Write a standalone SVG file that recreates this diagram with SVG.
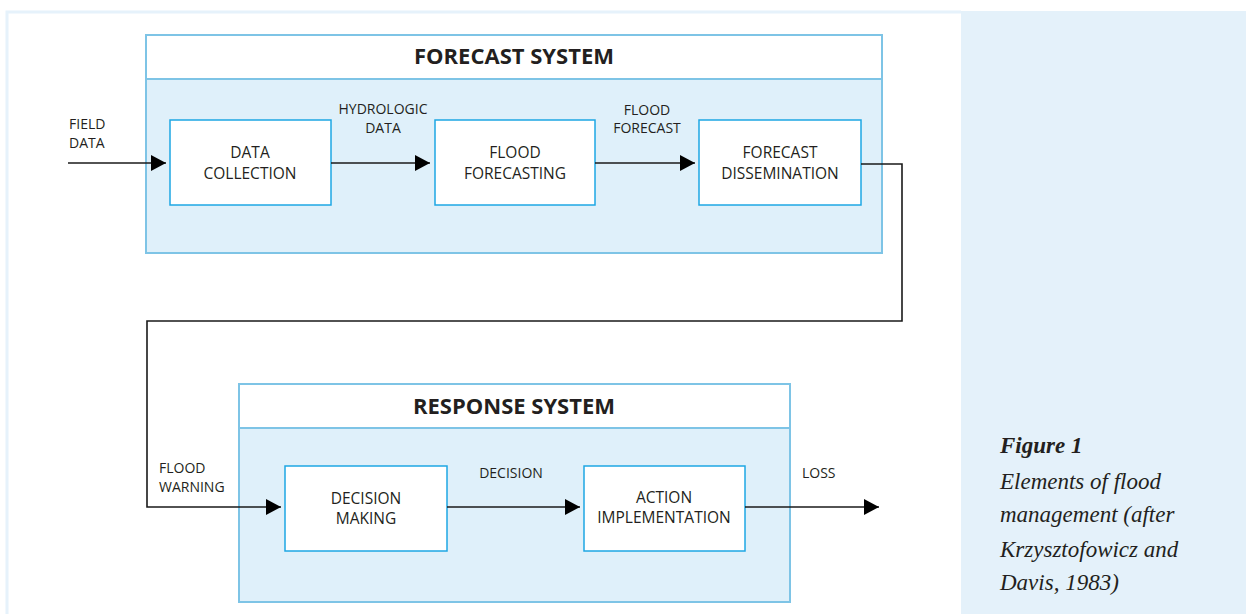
<svg xmlns="http://www.w3.org/2000/svg" width="1246" height="614" viewBox="0 0 1246 614">
<style>
.lbl{font-family:"Open Sans","Liberation Sans",sans-serif;font-size:14px;fill:#231f20}
.box{font-family:"Open Sans","Liberation Sans",sans-serif;font-size:15.5px;fill:#231f20;text-anchor:middle}
.ttl{font-family:"Open Sans","Liberation Sans",sans-serif;font-size:22px;font-weight:bold;fill:#231f20;text-anchor:middle}
.sys{fill:#dff0fa;stroke:#7ec4e6;stroke-width:2}
.hdr{fill:#ffffff;stroke:#7ec4e6;stroke-width:2}
.node{fill:#ffffff;stroke:#1ea7e4;stroke-width:1.5}
.con{fill:none;stroke:#1a1a1a;stroke-width:1.6}
.cap{font-family:"Liberation Serif","Times New Roman",serif;font-size:23px;font-style:italic;fill:#231f20}
</style>
<defs>
<marker id="ah" markerWidth="15" markerHeight="16" refX="15" refY="8" orient="auto" markerUnits="userSpaceOnUse">
<path d="M0,0 L15,8 L0,16 Z" fill="#000"/>
</marker>
</defs>
<rect x="0" y="0" width="1246" height="614" fill="#ffffff"/>
<g id="frame">
<path d="M7,614 V12 H961" fill="none" stroke="#e6f2fb" stroke-width="3"/>
<rect x="961" y="11" width="285" height="603" fill="#e4f1fa"/>
</g>
<g id="forecast-system">
<rect class="sys" x="146" y="35" width="736" height="218"/>
<rect class="hdr" x="146" y="35" width="736" height="44"/>
<text class="ttl" x="514" y="64">FORECAST SYSTEM</text>
</g>
<g id="response-system">
<rect class="sys" x="239" y="384" width="551" height="218"/>
<rect class="hdr" x="239" y="384" width="551" height="44"/>
<text class="ttl" x="514" y="414">RESPONSE SYSTEM</text>
</g>
<g id="data-collection">
<rect class="node" x="170" y="120" width="161" height="85"/>
<text class="box" x="250" y="158">DATA</text>
<text class="box" x="250" y="179">COLLECTION</text>
</g>
<g id="flood-forecasting">
<rect class="node" x="435" y="120" width="160" height="85"/>
<text class="box" x="515" y="158">FLOOD</text>
<text class="box" x="515" y="179">FORECASTING</text>
</g>
<g id="forecast-dissemination">
<rect class="node" x="699" y="120" width="162" height="85"/>
<text class="box" x="780" y="158">FORECAST</text>
<text class="box" x="780" y="179">DISSEMINATION</text>
</g>
<g id="decision-making">
<rect class="node" x="285" y="466" width="162" height="85"/>
<text class="box" x="366" y="504">DECISION</text>
<text class="box" x="366" y="524">MAKING</text>
</g>
<g id="action-implementation">
<rect class="node" x="584" y="466" width="161" height="85"/>
<text class="box" x="664" y="503">ACTION</text>
<text class="box" x="664" y="523">IMPLEMENTATION</text>
</g>
<g id="connectors">
<path class="con" d="M68,163 H166" marker-end="url(#ah)"/>
<path class="con" d="M331,163 H430" marker-end="url(#ah)"/>
<path class="con" d="M595,163 H695" marker-end="url(#ah)"/>
<path class="con" d="M861,164 H902 V321 H147 V507 H281" marker-end="url(#ah)"/>
<path class="con" d="M447,507 H580" marker-end="url(#ah)"/>
<path class="con" d="M745,507 H879" marker-end="url(#ah)"/>
<text class="lbl" x="69" y="129">FIELD</text>
<text class="lbl" x="69" y="148">DATA</text>
<text class="lbl" x="383" y="114" text-anchor="middle">HYDROLOGIC</text>
<text class="lbl" x="383" y="133" text-anchor="middle">DATA</text>
<text class="lbl" x="647" y="115" text-anchor="middle">FLOOD</text>
<text class="lbl" x="647" y="133" text-anchor="middle">FORECAST</text>
<text class="lbl" x="159" y="473">FLOOD</text>
<text class="lbl" x="159" y="492">WARNING</text>
<text class="lbl" x="511" y="478" text-anchor="middle">DECISION</text>
<text class="lbl" x="802" y="478">LOSS</text>
</g>
<g id="caption">
<text class="cap" x="1000" y="453" font-weight="bold">Figure 1</text>
<text class="cap" x="1000" y="489">Elements of flood</text>
<text class="cap" x="1000" y="522">management (after</text>
<text class="cap" x="1000" y="557">Krzysztofowicz and</text>
<text class="cap" x="1000" y="590">Davis, 1983)</text>
</g>
</svg>
